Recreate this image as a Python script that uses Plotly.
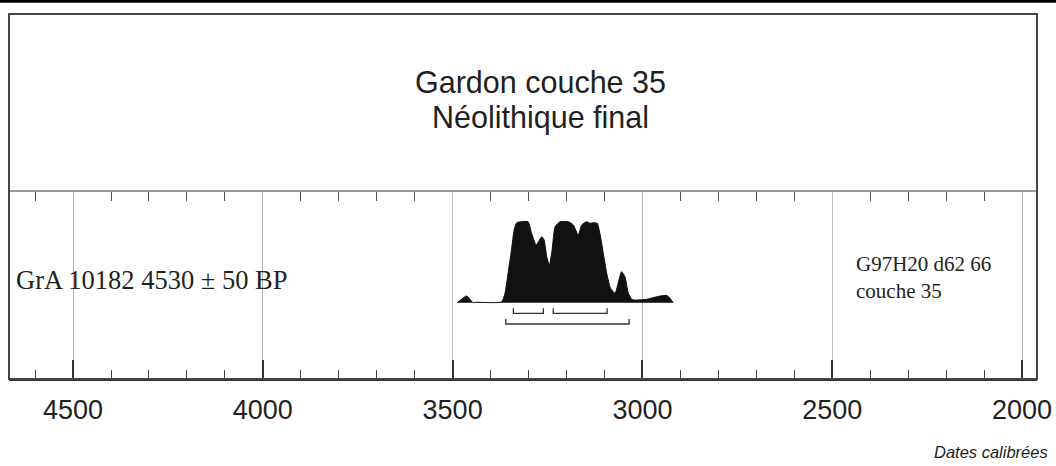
import plotly.graph_objects as go

# ---------------- data ----------------
years = [3488, 3463, 3446, 3439, 3371, 3362, 3354, 3345, 3338, 3331, 3318, 3301,
         3292, 3280, 3274, 3265, 3259, 3252, 3245, 3238, 3230, 3217, 3195, 3182,
         3169, 3160, 3147, 3138, 3129, 3119, 3112, 3103, 3094, 3084, 3072, 3064,
         3055, 3046, 3037, 3028, 3020, 2989, 2962, 2936, 2927, 2919]
prob = [0, 0.083, 0, 0.005, 0.01, 0.116, 0.363, 0.651, 0.898, 0.988, 1.0, 1.0,
        0.857, 0.712, 0.753, 0.815, 0.774, 0.568, 0.465, 0.651, 0.938, 1.0, 1.0, 0.96,
        0.836, 0.96, 1.0, 0.98, 0.988, 0.98, 0.857, 0.61, 0.363, 0.178, 0.116, 0.24,
        0.383, 0.321, 0.116, 0.042, 0.033, 0.042, 0.074, 0.09, 0.054, 0]

one_sigma = [(3340, 3261), (3235, 3093)]
two_sigma = [(3360, 3035)]

major_ticks = [4500, 4000, 3500, 3000, 2500, 2000]
major_labels = ["4500", "4000", "3500", "3000", "2500", "2000"]
minor_ticks = [y for y in range(4600, 1999, -100) if y % 500 != 0]

title_lines = ["Gardon couche 35", "Néolithique final"]
sample_label = "GrA 10182 4530 ± 50 BP"
site_label = "G97H20 d62 66<br>couche 35"
axis_title = "Dates calibrées"

X_RANGE = [4668.7, 1960.5]
Y_RANGE = [-0.942, 1.3667]
PANEL_TOP = 0.5123

fig = go.Figure()

# probability distribution
fig.add_trace(go.Scatter(
    x=years, y=prob, mode="lines", fill="tozeroy",
    fillcolor="#111111", line=dict(color="#111111", width=1, shape="spline", smoothing=0.5),
    hoverinfo="skip", showlegend=False))


def bracket_xy(ranges, bar_y, tip_y):
    xs, ys = [], []
    for a, b in ranges:
        xs += [a, a, b, b, None]
        ys += [tip_y, bar_y, bar_y, tip_y, None]
    return xs, ys


for rng, bar_y, tip_y in [(one_sigma, -0.131, -0.069), (two_sigma, -0.263, -0.201)]:
    bx, by = bracket_xy(rng, bar_y, tip_y)
    fig.add_trace(go.Scatter(x=bx, y=by, mode="lines",
                             line=dict(color="#333333", width=1.3),
                             hoverinfo="skip", showlegend=False))

# dummy trace for the top tick axis
fig.add_trace(go.Scatter(x=[years[0]], y=[0], xaxis="x2", yaxis="y", mode="markers",
                         marker=dict(opacity=0), hoverinfo="skip", showlegend=False))

fig.update_layout(
    width=1056, height=466,
    margin=dict(l=9.3, r=19.3, t=14, b=87, pad=0, autoexpand=False),
    paper_bgcolor="white", plot_bgcolor="white",
    xaxis=dict(
        range=X_RANGE, tickmode="array", tickvals=major_ticks, ticktext=major_labels,
        ticks="inside", ticklen=19, tickwidth=1.5, tickcolor="#333333",
        showgrid=True, gridcolor="#b8b8b8", gridwidth=1.3,
        showline=True, linecolor="#333333", linewidth=2,
        zeroline=False, automargin=False,
        tickfont=dict(family="Liberation Sans, Arial", size=27, color="#231f20"),
        ticklabelstandoff=6,
        minor=dict(tickmode="array", tickvals=minor_ticks, ticks="inside", ticklen=9,
                   tickwidth=1.3, tickcolor="#444444", showgrid=False),
        fixedrange=True,
    ),
    xaxis2=dict(
        range=X_RANGE, overlaying="x", anchor="y", side="top", automargin=False,
        tickmode="array", tickvals=minor_ticks, ticks="inside", ticklen=9,
        tickwidth=1.3, tickcolor="#555555", showticklabels=False,
        showline=True, linecolor="#999999", linewidth=1.5, showgrid=False, zeroline=False,
    ),
    yaxis=dict(range=Y_RANGE, domain=[0, PANEL_TOP], showticklabels=False, ticks="",
               showgrid=False, zeroline=False, showline=False, fixedrange=True,
               automargin=False),
    shapes=[
        dict(type="rect", xref="paper", yref="paper", x0=0, x1=1, y0=0, y1=1,
             line=dict(color="#444444", width=2), layer="above"),
        dict(type="rect", xref="paper", yref="paper", x0=-0.02, x1=1.03,
             y0=1.031, y1=1.0384, fillcolor="black", line=dict(width=0)),
    ],
    annotations=[
        dict(text=title_lines[0], xref="paper", yref="paper", x=0.517, y=0.8148,
             xanchor="center", yanchor="middle", showarrow=False,
             font=dict(family="Liberation Sans, Arial", size=30.5, color="#231f20")),
        dict(text=title_lines[1], xref="paper", yref="paper", x=0.517, y=0.7162,
             xanchor="center", yanchor="middle", showarrow=False,
             font=dict(family="Liberation Sans, Arial", size=30.5, color="#231f20")),
        dict(text=sample_label, xref="paper", yref="paper", x=0.0045, y=(379 - 279.5) / 365,
             xanchor="left", yanchor="middle", showarrow=False,
             font=dict(family="Liberation Serif, Times New Roman", size=26.5, color="#231f20")),
        dict(text=site_label, xref="paper", yref="paper", x=0.822, y=(379 - 277.8) / 365,
             xanchor="left", yanchor="middle", showarrow=False, align="left",
             font=dict(family="Liberation Serif, Times New Roman", size=21, color="#231f20")),
        dict(text="<i>" + axis_title + "</i>", xref="paper", yref="paper",
             x=(1050 - 9.3) / 1027.4, y=(379 - 452) / 365,
             xanchor="right", yanchor="middle", showarrow=False,
             font=dict(family="Liberation Sans, Arial", size=16.5, color="#231f20")),
    ],
)

fig.write_html("out.html", config={"displayModeBar": False},
               post_script="document.body.style.margin='0';")
